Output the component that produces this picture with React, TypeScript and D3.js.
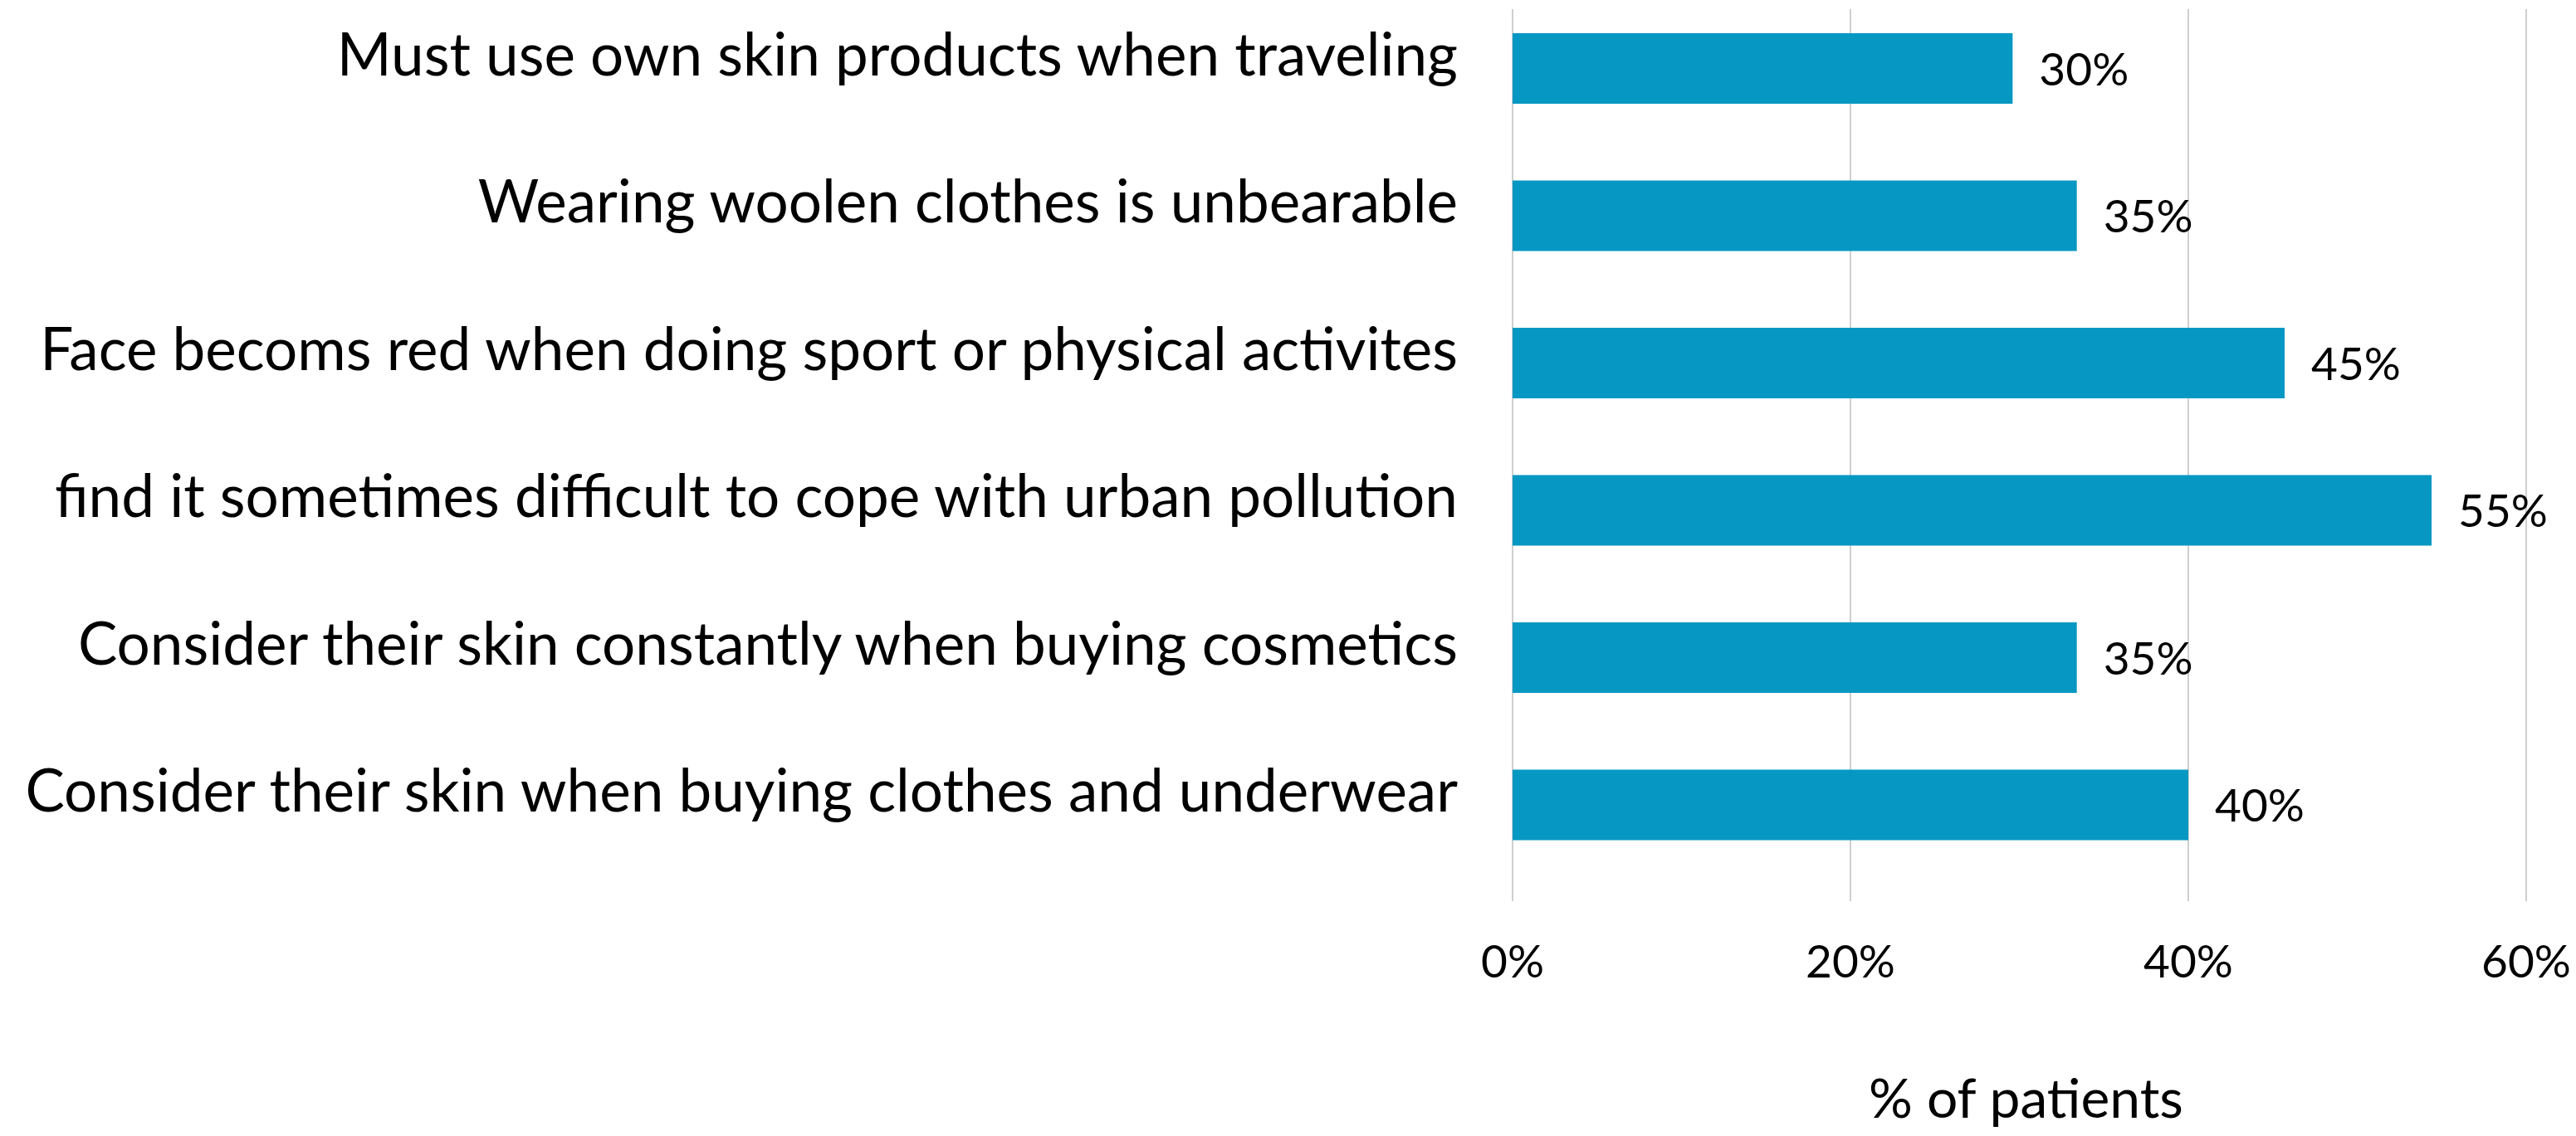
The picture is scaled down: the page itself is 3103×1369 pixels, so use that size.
import React from "react";
import * as d3 from "d3";

const categories: string[] = [
  "Must use own skin products when traveling",
  "Wearing woolen clothes is unbearable",
  "Face becoms red when doing sport or physical activites",
  "find it sometimes difficult to cope with urban pollution",
  "Consider their skin constantly when buying cosmetics",
  "Consider their skin when buying clothes and underwear",
];
const values: number[] = [0.296, 0.334, 0.457, 0.544, 0.334, 0.4];
const valueLabels: string[] = ["30%", "35%", "45%", "55%", "35%", "40%"];
const xTicks: number[] = [0, 0.2, 0.4, 0.6];
const xTickLabels: string[] = ["0%", "20%", "40%", "60%"];
const axisTitle = "% of patients";

const W = 3103;
const H = 1369;
const FONT = "Lato, 'Open Sans', sans-serif";
const BAR = "#0698c2";

export default function App() {
  const plotLeft = 1822;
  const plotRight = 3043;
  const plotTop = 11;
  const plotBottom = 1086;

  const x = d3.scaleLinear().domain([0, 0.6]).range([plotLeft, plotRight]);
  const y = d3
    .scaleBand<string>()
    .domain(categories)
    .range([plotTop, plotBottom])
    .paddingInner(0.521)
    .paddingOuter(0.2887)
    .align(0.283);
  const bw = y.bandwidth();

  return (
    <svg
      width={W}
      height={H}
      viewBox={`0 0 ${W} ${H}`}
      style={{ position: "absolute", left: 0, top: 0, background: "#fff" }}
    >
      <rect x={0} y={0} width={W} height={H} fill="#fff" />
      {xTicks.map((t) => (
        <line
          key={"g" + t}
          x1={x(t)}
          x2={x(t)}
          y1={plotTop}
          y2={plotBottom}
          stroke="#cfcfcf"
          strokeWidth={2}
        />
      ))}
      {categories.map((c, i) => (
        <rect
          key={"b" + i}
          x={x(0)}
          y={y(c)!}
          width={x(values[i]) - x(0)}
          height={bw}
          fill={BAR}
        />
      ))}
      {categories.map((c, i) => (
        <text
          key={"v" + i}
          x={x(values[i]) + 32}
          y={y(c)! + bw / 2 + 20}
          fontFamily={FONT}
          fontSize={55}
          fill="#000"
        >
          {valueLabels[i]}
        </text>
      ))}
      {categories.map((c, i) => (
        <text
          key={"c" + i}
          x={plotLeft - 66}
          y={y(c)! + bw / 2 + 8}
          textAnchor="end"
          fontFamily={FONT}
          fontSize={71}
          fill="#000"
        >
          {c}
        </text>
      ))}
      {xTicks.map((t, i) => (
        <text
          key={"t" + t}
          x={x(t)}
          y={1178}
          textAnchor="middle"
          fontFamily={FONT}
          fontSize={55}
          fill="#000"
        >
          {xTickLabels[i]}
        </text>
      ))}
      <text
        x={(plotLeft + plotRight) / 2 + 8}
        y={1347}
        textAnchor="middle"
        fontFamily={FONT}
        fontSize={66}
        fill="#000"
      >
        {axisTitle}
      </text>
    </svg>
  );
}
